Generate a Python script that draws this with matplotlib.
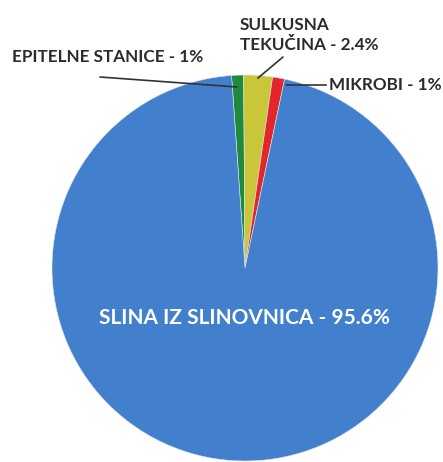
import matplotlib
matplotlib.use("Agg")
import matplotlib.pyplot as plt

# Data (clockwise from top)
labels = ["EPITELNE STANICE - 1%", "SULKUSNA\nTEKUČINA - 2.4%", "MIKROBI - 1%", "SLINA IZ SLINOVNICA - 95.6%"]
values = [1.0, 2.4, 1.0, 95.6]
colors = ["#1f8a3c", "#c9c63a", "#e3262a", "#4280cd"]

W, H = 443, 462
CX, CY, R = 245, 268, 193  # pie centre / radius in pixels


def px(x, y):
    # pixel position -> data coords (pie radius = 1)
    return (x - CX) / R, (CY - y) / R


fig = plt.figure(figsize=(W / 100, H / 100), dpi=100)
ax = fig.add_axes([0, 0, 1, 1])
ax.pie(values, colors=colors, startangle=94, counterclock=False,
       radius=1.0, wedgeprops=dict(linewidth=0.4, edgecolor="#dfe6f0"))
ax.set_xlim(-CX / R, (W - CX) / R)
ax.set_ylim(-(H - CY) / R, CY / R)
ax.set_aspect("auto")
ax.axis("off")

font = "Lato"
tcol = "#2b2b2b"
line = dict(arrowstyle="-", color="#333333", lw=1.2, shrinkA=0, shrinkB=0)

# EPITELNE STANICE
ax.text(*px(108, 57), labels[0], ha="center", va="center",
        fontsize=12.3, fontweight="bold", family=font, color=tcol)
ax.annotate("", xy=px(237, 87), xytext=px(100, 77), arrowprops=line)

# SULKUSNA TEKUCINA
ax.text(*px(240, 35), labels[1], ha="left", va="center",
        fontsize=12.3, fontweight="bold", family=font, color=tcol, linespacing=1.25)
ax.annotate("", xy=px(258, 78), xytext=px(283, 57), arrowprops=line)

# MIKROBI
ax.annotate(labels[2], xy=px(286, 85), xytext=px(329, 85), ha="left", va="center",
            fontsize=12.3, fontweight="bold", family=font, color=tcol,
            arrowprops=dict(line, relpos=(0.0, 0.5)))

# main slice label
ax.text(*px(244, 318), labels[3], ha="center", va="center",
        fontsize=15, family=font, color="white", fontweight="bold")

fig.savefig("out.png", dpi=100)
